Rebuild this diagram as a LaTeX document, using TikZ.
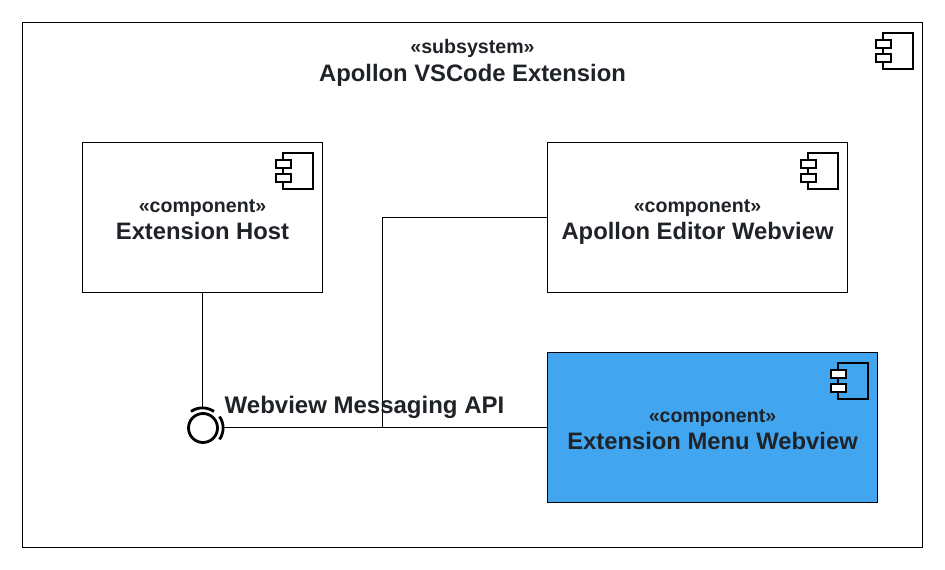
\documentclass[tikz,border=0pt]{standalone}
\usepackage{fontspec}
\setmainfont{Liberation Sans}
\usepackage{xcolor}
\usepackage{tikz}
\definecolor{menublue}{HTML}{42A5F0}
\definecolor{textdark}{HTML}{1F2328}
\newcommand{\stereo}[2]{{\fontsize{19.6}{20}\selectfont\bfseries\rule{0pt}{22pt}«#1»}\\[5pt]{\fontsize{23.8}{26}\selectfont\bfseries\vphantom{Apg}#2}}
\tikzset{
complabel/.style={text=textdark,align=center,inner sep=0pt},
compbox/.style={draw,line width=1.5pt,complabel},
compicon/.pic={
\draw[line width=1.8pt](-30,0)rectangle(0,36);
\draw[line width=1.8pt,fill=white](-37,7)rectangle(-22,15);
\draw[line width=1.8pt,fill=white](-37,21)rectangle(-22,29);
}}
\begin{document}
\begin{tikzpicture}[x=1pt,y=-1pt]
\useasboundingbox(0,0)rectangle(945,570);
\fill[white](0,0)rectangle(945,570);
\draw[line width=1.5pt](22.5,22.5)rectangle(922.5,547.5);
\node[complabel](title)at(472.5,59){\stereo{subsystem}{Apollon VSCode Extension}};
\node[compbox,minimum width=240,minimum height=150](host)at(202.5,217.5){\stereo{component}{Extension Host}};
\node[compbox,minimum width=300,minimum height=150](editor)at(697.5,217.5){\stereo{component}{Apollon Editor Webview}};
\node[compbox,fill=menublue,minimum width=330,minimum height=150](menu)at(712.5,427.5){\stereo{component}{Extension Menu Webview}};
\pic at(913,33){compicon};
\pic at(host.north east)[shift={(-10,11)}]{compicon};
\pic at(editor.north east)[shift={(-10,11)}]{compicon};
\pic at(menu.north east)[shift={(-10,11)}]{compicon};
\node[circle,draw,line width=2.8pt,minimum size=29,inner sep=0pt](api)at(203,428){};
\coordinate(apitop)at(202.5,408);
\coordinate(apiright)at(223.5,427.5);
\coordinate(joint)at(382.5,427.5);
\draw[line width=2.8pt](191,411.5)arc[start angle=-125,end angle=-55,radius=20];
\draw[line width=2.8pt](219.5,416.5)arc[start angle=-35,end angle=35,radius=20];
\draw[line width=1.5pt](host.south)--(apitop);
\draw[line width=1.5pt](menu.west)--(apiright);
\draw[line width=1.5pt](editor.west)-|(joint);
\node[text=textdark,font=\fontsize{24}{26}\selectfont\bfseries,inner sep=0pt](apilabel)at(364.5,407){Webview Messaging API};
\end{tikzpicture}
\end{document}
